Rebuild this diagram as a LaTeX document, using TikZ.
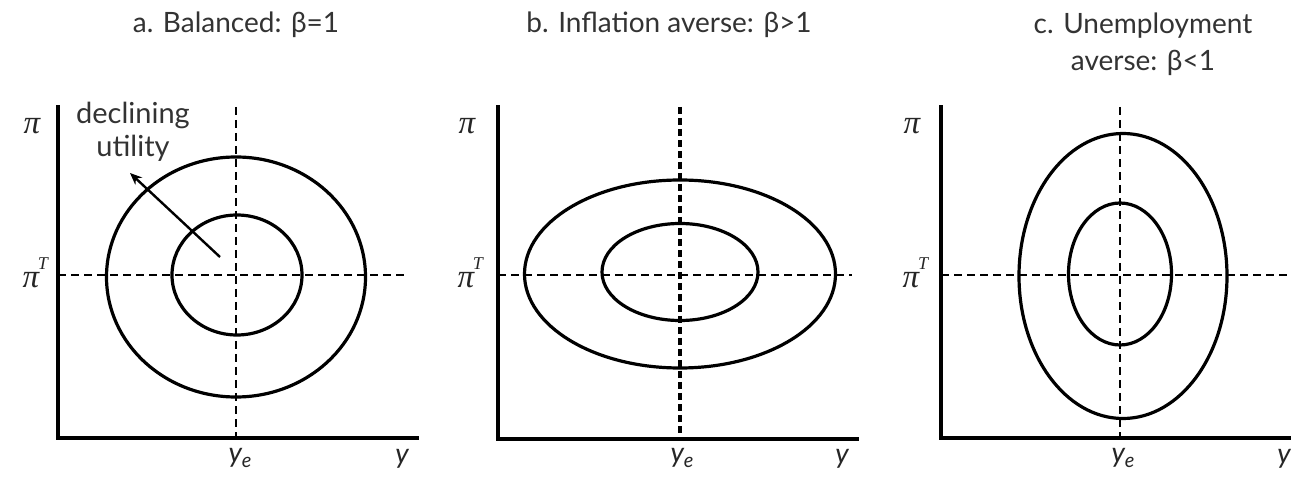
\documentclass[tikz,border=0pt]{standalone}
\usepackage{fontspec}
\setmainfont{Lato}
\newfontfamily\pifont{Liberation Serif}
\usetikzlibrary{arrows.meta}
\definecolor{titlegray}{HTML}{333333}
\tikzset{
  axis/.style={line width=3.6pt, line cap=rect},
  thickaxis/.style={line width=4.6pt, line cap=rect},
  guide/.style={line width=2.4pt, dash pattern=on 8pt off 5pt},
  thickguide/.style={line width=4pt, dash pattern=on 7pt off 4pt},
  curve/.style={line width=3.2pt},
  title/.style={font=\fontsize{28}{37}\selectfont, text=titlegray, align=center},
  lab/.style={font=\pifont\itshape\fontsize{33}{36}\selectfont, inner sep=0pt, text=black!85},
  tlab/.style={font=\pifont\itshape\fontsize{18}{20}\selectfont, inner sep=0pt, text=black!85},
  ylab/.style={font=\fontsize{28}{30}\selectfont\itshape, inner sep=0pt, text=black!85},
  note/.style={font=\fontsize{29}{30}\selectfont, text=titlegray, align=center, inner sep=0pt}
}
\newcommand{\yelab}{\textit{y}\raisebox{-0.35ex}{\fontsize{20}{22}\selectfont\textit{e}}}
\begin{document}
\begin{tikzpicture}[x=1pt,y=-1pt]
\useasboundingbox (0,0) rectangle (1291,478);
\fill[white] (0,0) rectangle (1291,478);

% ---------------- panel a ----------------
\node[title] (ta) at (236,25) {a. Balanced: β=1};
\coordinate (ao) at (58,438);
\coordinate (atop) at (58,107);
\coordinate (aright) at (417,438);
\draw[axis] (atop) -- (ao) -- (aright);
\coordinate (ahl) at (58,275);
\coordinate (ahr) at (407,275);
\coordinate (avt) at (236,107);
\coordinate (avb) at (236,438);
\draw[guide] (ahl) -- (ahr);
\draw[guide] (avt) -- (avb);
\draw[curve] (236,277) ellipse [x radius=129.5pt, y radius=120pt];
\draw[curve] (237,275) ellipse [x radius=65pt, y radius=60pt];
\node[lab] (pia) at (32,126) {π};
\node[lab] (piTa) at (31,280) {π};
\node[tlab] (Ta) at (43,264) {T};
\node[ylab] (yea) at (240,458) {\yelab};
\node[ylab] (ya) at (402,459) {y};
\node[note] (decl) at (133,115) {declining};
\node[note] (util) at (133,148) {utility};
\coordinate (arS) at (220,257);
\coordinate (arE) at (130,173);
\draw[line width=2.4pt, -{Stealth[length=12pt,width=10pt]}] (arS) -- (arE);

% ---------------- panel b ----------------
\node[title] (tb) at (669,25) {b. Inflation averse: β>1};
\coordinate (bo) at (498,439);
\coordinate (btop) at (498,107);
\coordinate (bright) at (857,439);
\draw[thickaxis] (btop) -- (bo) -- (bright);
\coordinate (bhl) at (498,275);
\coordinate (bhr) at (852,275);
\coordinate (bvt) at (680,107);
\coordinate (bvb) at (680,439);
\draw[guide] (bhl) -- (bhr);
\draw[thickguide] (bvt) -- (bvb);
\draw[curve] (680,274) ellipse [x radius=155.5pt, y radius=94pt];
\draw[curve] (680,272) ellipse [x radius=78pt, y radius=48.5pt];
\node[lab] (pib) at (467,126) {π};
\node[lab] (piTb) at (466,280) {π};
\node[tlab] (Tb) at (478,264) {T};
\node[ylab] (yeb) at (682,458) {\yelab};
\node[ylab] (yb) at (842,459) {y};

% ---------------- panel c ----------------
\node[title] (tc) at (1143,44) {c. Unemployment\\averse: β<1};
\coordinate (co) at (941,438);
\coordinate (ctop) at (941,107);
\coordinate (cright) at (1293,438);
\draw[axis] (ctop) -- (co) -- (cright);
\coordinate (chl) at (941,275);
\coordinate (chr) at (1293,275);
\coordinate (cvt) at (1120,107);
\coordinate (cvb) at (1120,438);
\draw[guide] (chl) -- (chr);
\draw[guide] (cvt) -- (cvb);
\draw[curve] (1123,276) ellipse [x radius=104pt, y radius=142.5pt];
\draw[curve] (1120,274) ellipse [x radius=51.5pt, y radius=71pt];
\node[lab] (pic) at (912,126) {π};
\node[lab] (piTc) at (911,280) {π};
\node[tlab] (Tc) at (923,264) {T};
\node[ylab] (yec) at (1123,458) {\yelab};
\node[ylab] (yc) at (1284,459) {y};
\end{tikzpicture}
\end{document}
